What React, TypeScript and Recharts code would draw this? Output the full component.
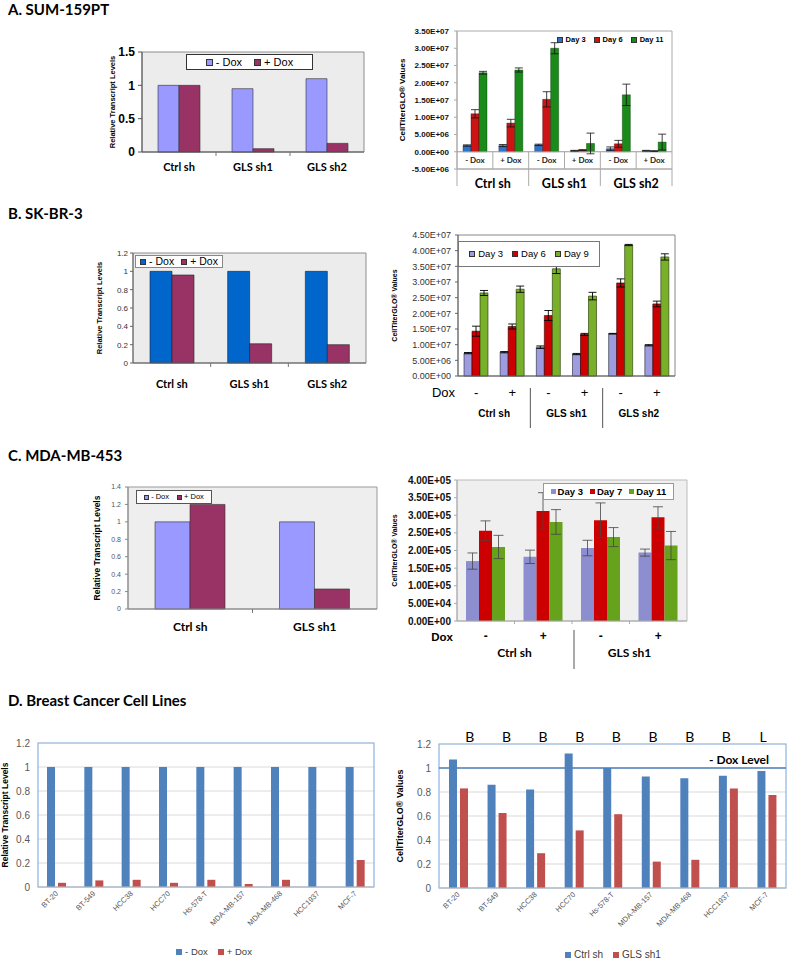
import React from "react";
import {
  BarChart,
  Bar,
  XAxis,
  YAxis,
  CartesianGrid,
  Legend,
  ErrorBar,
  ReferenceLine,
  ReferenceArea,
} from "recharts";

const ARIAL = "'Liberation Sans', Arial, sans-serif";
const CALIBRI = "Lato, 'Open Sans', sans-serif";

// ---------- A. SUM-159PT ----------
const shGroups3 = ["Ctrl sh", "GLS sh1", "GLS sh2"];
const aMinusDox = [1, 0.95, 1.1];
const aPlusDox = [1, 0.05, 0.13];

const aDoxLabels = ["- Dox", "+ Dox", "- Dox", "+ Dox", "- Dox", "+ Dox"];
const aDay3 = [1.8e6, 1.8e6, 2.0e6, 0.3e6, 0.9e6, 0.3e6];
const aDay3Err = [0.2e6, 0.3e6, 0.2e6, 0.1e6, 0.5e6, 0.1e6];
const aDay6 = [1.1e7, 8.3e6, 1.52e7, 0.5e6, 2.3e6, 0.2e6];
const aDay6Err = [1.2e6, 1.1e6, 2.2e6, 0.1e6, 1.0e6, 0.1e6];
const aDay11 = [2.29e7, 2.37e7, 3.0e7, 2.4e6, 1.65e7, 2.8e6];
const aDay11Err = [0.4e6, 0.6e6, 1.6e6, 3.0e6, 3.1e6, 2.3e6];
const aCellTicks = [-5e6, 0, 5e6, 1e7, 1.5e7, 2e7, 2.5e7, 3e7, 3.5e7];

// ---------- B. SK-BR-3 ----------
const bMinusDox = [1, 1, 1];
const bPlusDox = [0.96, 0.21, 0.2];

const bDoxSigns = ["-", "+", "-", "+", "-", "+"];
const bDay3 = [7.3e6, 7.6e6, 9.2e6, 7.0e6, 1.35e7, 9.8e6];
const bDay3Err = [0.2e6, 0.2e6, 0.4e6, 0.2e6, 0.1e6, 0.2e6];
const bDay6 = [1.43e7, 1.58e7, 1.93e7, 1.33e7, 2.97e7, 2.3e7];
const bDay6Err = [1.6e6, 0.8e6, 1.6e6, 0.3e6, 1.3e6, 0.9e6];
const bDay9 = [2.65e7, 2.77e7, 3.42e7, 2.55e7, 4.18e7, 3.8e7];
const bDay9Err = [0.8e6, 1.0e6, 1.5e6, 1.2e6, 0.2e6, 1.0e6];
const bCellTicks = [0, 5e6, 1e7, 1.5e7, 2e7, 2.5e7, 3e7, 3.5e7, 4e7, 4.5e7];

// ---------- C. MDA-MB-453 ----------
const shGroups2 = ["Ctrl sh", "GLS sh1"];
const cMinusDox = [1, 1];
const cPlusDox = [1.2, 0.23];

const cDoxSigns = ["-", "+", "-", "+"];
const cDay3 = [1.7e5, 1.82e5, 2.07e5, 1.94e5];
const cDay3Err = [2.3e4, 1.9e4, 2.2e4, 1.0e4];
const cDay7 = [2.56e5, 3.12e5, 2.86e5, 2.94e5];
const cDay7Err = [2.8e4, 5.2e4, 4.9e4, 3.0e4];
const cDay11 = [2.1e5, 2.81e5, 2.38e5, 2.14e5];
const cDay11Err = [3.3e4, 3.5e4, 2.7e4, 4.0e4];
const cCellTicks = [0, 5e4, 1e5, 1.5e5, 2e5, 2.5e5, 3e5, 3.5e5, 4e5];

// ---------- D. Breast Cancer Cell Lines ----------
const cellLines = ["BT-20", "BT-549", "HCC38", "HCC70", "Hs-578-T", "MDA-MB-157", "MDA-MB-468", "HCC1937", "MCF-7"];
const dMinusDox = [1, 1, 1, 1, 1, 1, 1, 1, 1];
const dPlusDox = [0.035, 0.055, 0.06, 0.035, 0.06, 0.025, 0.06, 0, 0.225];
const dCtrlSh = [1.07, 0.86, 0.82, 1.12, 1.0, 0.93, 0.915, 0.935, 0.975];
const dGlsSh1 = [0.83, 0.625, 0.29, 0.48, 0.615, 0.22, 0.235, 0.83, 0.775];
const dSubtype = ["B", "B", "B", "B", "B", "B", "B", "B", "L"];
const dDoxLevel = 1;

const ticks12 = [0, 0.2, 0.4, 0.6, 0.8, 1, 1.2];
const ticks14 = [0, 0.2, 0.4, 0.6, 0.8, 1, 1.2, 1.4];

const aRows = shGroups3.map((name, i) => ({ name, minus: aMinusDox[i], plus: aPlusDox[i] }));
const aCellRows = aDoxLabels.map((dox, i) => ({
  dox, group: shGroups3[Math.floor(i / 2)],
  d3: aDay3[i], e3: aDay3Err[i], d6: aDay6[i], e6: aDay6Err[i], d11: aDay11[i], e11: aDay11Err[i],
}));
const bRows = shGroups3.map((name, i) => ({ name, minus: bMinusDox[i], plus: bPlusDox[i] }));
const bCellRows = bDoxSigns.map((dox, i) => ({
  dox, group: shGroups3[Math.floor(i / 2)],
  d3: bDay3[i], e3: bDay3Err[i], d6: bDay6[i], e6: bDay6Err[i], d9: bDay9[i], e9: bDay9Err[i],
}));
const cRows = shGroups2.map((name, i) => ({ name, minus: cMinusDox[i], plus: cPlusDox[i] }));
const cCellRows = cDoxSigns.map((dox, i) => ({
  dox, group: shGroups2[Math.floor(i / 2)],
  d3: cDay3[i], e3: cDay3Err[i], d7: cDay7[i], e7: cDay7Err[i], d11: cDay11[i], e11: cDay11Err[i],
}));
const dRows = cellLines.map((name, i) => ({ name, minus: dMinusDox[i], plus: dPlusDox[i] }));
const dCellRows = cellLines.map((name, i) => ({ name, type: dSubtype[i], ctrl: dCtrlSh[i], gls: dGlsSh1[i] }));

// "3.50E+07" style labels
const sci = (v: number) => {
  const [m, e] = v.toExponential(2).split("e");
  const n = Number(e);
  return `${m}E${n < 0 ? "-" : "+"}${String(Math.abs(n)).padStart(2, "0")}`;
};

type Geo = { left: number; top: number; width: number; height: number; x0: number; y0: number; x1: number; y1: number };

const gAL: Geo = { left: 95, top: 40, width: 285, height: 140, x0: 142, y0: 52, x1: 364, y1: 152 };
const gAR: Geo = { left: 385, top: 20, width: 305, height: 172, x0: 457, y0: 31, x1: 672, y1: 169 };
const gBL: Geo = { left: 90, top: 240, width: 290, height: 155, x0: 133, y0: 253, x1: 366, y1: 363 };
const gBR: Geo = { left: 385, top: 225, width: 305, height: 207, x0: 458, y0: 235, x1: 675, y1: 376 };
const gCL: Geo = { left: 85, top: 478, width: 297, height: 162, x0: 128, y0: 487, x1: 377, y1: 609 };
const gCR: Geo = { left: 385, top: 470, width: 315, height: 202, x0: 457, y0: 480, x1: 687, y1: 621 };
const gDL: Geo = { left: 0, top: 730, width: 385, height: 232, x0: 38, y0: 743, x1: 374, y1: 887 };
const gDR: Geo = { left: 390, top: 720, width: 398, height: 242, x0: 439, y0: 744, x1: 786, y1: 888 };

const mg = (g: Geo, topAxis = 0) => ({ top: g.y0 - g.top - topAxis, right: g.left + g.width - g.x1, left: 0, bottom: 0 });
const yw = (g: Geo) => g.x0 - g.left;
const xh = (g: Geo) => g.top + g.height - g.y1;

function Frame({ g, children }: { g: Geo; children: React.ReactNode }) {
  return (
    <div style={{ position: "absolute", left: g.left, top: g.top, width: g.width, height: g.height }}>
      {children}
    </div>
  );
}

function LegendBox(props: any) {
  const { payload, keys, w, h, border, font, size, weight, marker, gap, color, markerBorder, inner } = props;
  // keep series order (the legend sorts by name otherwise)
  const items = [...(payload || [])].sort((a: any, b: any) => keys.indexOf(a.dataKey) - keys.indexOf(b.dataKey));
  return (
    <div
      style={{
        boxSizing: "border-box", width: w, height: h,
        border: border || "none", background: border ? "#fff" : "transparent",
        display: "flex", alignItems: "center", justifyContent: "center", gap,
        fontFamily: font, fontSize: size, fontWeight: weight || 400, color: color || "#000",
        whiteSpace: "nowrap", lineHeight: 1,
      }}
    >
      {items.map((e: any) => (
        <span key={e.value} style={{ display: "flex", alignItems: "center", gap: inner ?? 3 }}>
          <span style={{ display: "inline-block", width: marker, height: marker, background: e.color, border: markerBorder || "none", boxSizing: "border-box" }} />
          <span>{e.value}</span>
        </span>
      ))}
    </div>
  );
}

function legendAt(g: Geo, keys: string[], x: number, y: number, w: number, h: number, opts: any) {
  return (
    <Legend
      layout="vertical"
      verticalAlign="middle"
      align="center"
      wrapperStyle={{ left: x - g.left, top: y - g.top, width: w, height: h }}
      content={(p: any) => <LegendBox payload={p.payload} keys={keys} w={w} h={h} {...opts} />}
    />
  );
}

const yTitle = (value: string, g: Geo, cx: number, size: number) => ({
  value, angle: -90, position: "insideLeft" as const, offset: cx - g.left,
  fontSize: size, fontWeight: 700, fontFamily: ARIAL, fill: "#000",
  style: { textAnchor: "middle" as const },
});

// category axis label with Excel boundary tick marks
const catTick = (band: number, n: number, dy: number, size: number) => (p: any) => {
  const { x, y, payload, index } = p;
  return (
    <g>
      <text x={x} y={y + dy} textAnchor="middle" dominantBaseline="central" fontFamily={CALIBRI} fontWeight={700} fontSize={size} fill="#000">
        {payload.value}
      </text>
      {index < n - 1 && <line x1={x + band / 2} x2={x + band / 2} y1={y} y2={y + 4} stroke="#777" />}
    </g>
  );
};

const rotTick = (p: any) => {
  const { x, y, payload } = p;
  const tx = x + 2;
  const ty = y + 7;
  return (
    <text x={tx} y={ty} transform={`rotate(-45 ${tx} ${ty})`} textAnchor="end" fontFamily={ARIAL} fontSize={7.5} fill="#595959">
      {payload.value}
    </text>
  );
};

function ChartAL() {
  const g = gAL;
  const band = (g.x1 - g.x0) / aRows.length;
  return (
    <Frame g={g}>
      <BarChart width={g.width} height={g.height} data={aRows} margin={mg(g)} barGap={0} barSize={21}>
        <CartesianGrid fill="#ececec" horizontal={false} vertical={false} />
        <ReferenceArea y1={0} y2={1.5} fill="none" stroke="#8c8c8c" ifOverflow="visible" />
        <XAxis dataKey="name" height={xh(g)} interval={0} tickLine={false} tickSize={0} tickMargin={0}
          axisLine={{ stroke: "#555" }} tick={catTick(band, aRows.length, 14, 11)} />
        <YAxis width={yw(g)} domain={[0, 1.5]} ticks={[0, 0.5, 1, 1.5]} interval={0}
          axisLine={{ stroke: "#555" }} tickLine={{ stroke: "#555" }} tickSize={4} tickMargin={3}
          tick={{ fontSize: 12, fontWeight: 700, fill: "#000", fontFamily: ARIAL }}
          label={yTitle("Relative Transcript Levels", g, 112, 7.5)} />
        <Bar dataKey="minus" name="- Dox" fill="#9999ff" stroke="#333" strokeWidth={0.6} isAnimationActive={false} />
        <Bar dataKey="plus" name="+ Dox" fill="#993366" stroke="#333" strokeWidth={0.6} isAnimationActive={false} />
        {legendAt(g, ["minus", "plus"], 186, 54, 127, 16, { border: "1px solid #333", font: ARIAL, size: 11, marker: 7, gap: 12, markerBorder: "1px solid #333" })}
      </BarChart>
    </Frame>
  );
}

function ChartAR() {
  const g = gAR;
  const n = aCellRows.length;
  const band = (g.x1 - g.x0) / n;
  const zeroDrop = ((0 - aCellTicks[0]) / (aCellTicks[aCellTicks.length - 1] - aCellTicks[0])) * (g.y1 - g.y0);
  const tick = (p: any) => {
    const { x, y, payload, index } = p;
    const zy = y - zeroDrop;
    return (
      <g>
        <text x={x} y={(zy + y) / 2} textAnchor="middle" dominantBaseline="central" fontFamily={CALIBRI} fontWeight={700} fontSize={8} fill="#222">
          {payload.value}
        </text>
        {index < n - 1 && <line x1={x + band / 2} x2={x + band / 2} y1={zy} y2={y} stroke="#aaa" />}
        {index % 2 === 0 && <line x1={x - band / 2} x2={x - band / 2} y1={y} y2={y + 17} stroke="#aaa" />}
        {index === n - 1 && <line x1={x + band / 2} x2={x + band / 2} y1={y} y2={y + 17} stroke="#aaa" />}
        {index % 2 === 1 && (
          <text x={x - band / 2} y={y + 14} textAnchor="middle" dominantBaseline="central" fontFamily={CALIBRI} fontWeight={700} fontSize={12.5} fill="#000">
            {aCellRows[index].group}
          </text>
        )}
      </g>
    );
  };
  return (
    <Frame g={g}>
      <BarChart width={g.width} height={g.height} data={aCellRows} margin={mg(g)} barGap={0} barSize={8}>
        <ReferenceArea y1={-5e6} y2={3.5e7} fill="none" stroke="#aaa" ifOverflow="visible" />
        <ReferenceLine y={0} stroke="#999" />
        <XAxis dataKey="dox" height={xh(g)} interval={0} tickLine={false} tickSize={0} tickMargin={0}
          axisLine={{ stroke: "#aaa" }} tick={tick} />
        <YAxis width={yw(g)} domain={[-5e6, 3.5e7]} ticks={aCellTicks} interval={0} tickFormatter={sci}
          axisLine={{ stroke: "#aaa" }} tickLine={{ stroke: "#aaa" }} tickSize={3} tickMargin={5}
          tick={{ fontSize: 8, fontWeight: 700, fill: "#111", fontFamily: ARIAL }}
          label={yTitle("CellTiterGLO® Values", g, 402, 8)} />
        <Bar dataKey="d3" name="Day 3" fill="#2f72c8" stroke="#234" strokeWidth={0.4} isAnimationActive={false}>
          <ErrorBar dataKey="e3" width={4} stroke="#111" strokeWidth={0.8} direction="y" />
        </Bar>
        <Bar dataKey="d6" name="Day 6" fill="#cc1414" stroke="#400" strokeWidth={0.4} isAnimationActive={false}>
          <ErrorBar dataKey="e6" width={4} stroke="#111" strokeWidth={0.8} direction="y" />
        </Bar>
        <Bar dataKey="d11" name="Day 11" fill="#1a8a1a" stroke="#030" strokeWidth={0.4} isAnimationActive={false}>
          <ErrorBar dataKey="e11" width={4} stroke="#111" strokeWidth={0.8} direction="y" />
        </Bar>
        {legendAt(g, ["d3", "d6", "d11"], 556, 34, 108, 12, { font: ARIAL, size: 7.5, weight: 700, marker: 6, gap: 8, markerBorder: "0.5px solid #333" })}
      </BarChart>
    </Frame>
  );
}

function ChartBL() {
  const g = gBL;
  const band = (g.x1 - g.x0) / bRows.length;
  return (
    <Frame g={g}>
      <BarChart width={g.width} height={g.height} data={bRows} margin={mg(g)} barGap={0} barSize={22}>
        <CartesianGrid fill="#ececec" horizontal={false} vertical={false} />
        <ReferenceArea y1={0} y2={1.2} fill="none" stroke="#8c8c8c" ifOverflow="visible" />
        <XAxis dataKey="name" height={xh(g)} interval={0} tickLine={false} tickSize={0} tickMargin={0}
          axisLine={{ stroke: "#666" }} tick={catTick(band, bRows.length, 20, 11)} />
        <YAxis width={yw(g)} domain={[0, 1.2]} ticks={ticks12} interval={0}
          axisLine={{ stroke: "#666" }} tickLine={{ stroke: "#666" }} tickSize={3} tickMargin={2}
          tick={{ fontSize: 8, fill: "#333", fontFamily: ARIAL }}
          label={yTitle("Relative Transcript Levels", g, 99, 7.5)} />
        <Bar dataKey="minus" name="- Dox" fill="#0066cc" stroke="#222" strokeWidth={0.6} isAnimationActive={false} />
        <Bar dataKey="plus" name="+ Dox" fill="#993366" stroke="#222" strokeWidth={0.6} isAnimationActive={false} />
        {legendAt(g, ["minus", "plus"], 135, 255, 88, 13, { border: "1px solid #888", font: ARIAL, size: 10.5, marker: 6, gap: 7, markerBorder: "1px solid #333" })}
      </BarChart>
    </Frame>
  );
}

function ChartBR() {
  const g = gBR;
  const n = bCellRows.length;
  const band = (g.x1 - g.x0) / n;
  const tick = (p: any) => {
    const { x, y, payload, index } = p;
    return (
      <g>
        {index === 0 && (
          <text x={x - band / 2 - 3} y={y + 16} textAnchor="end" dominantBaseline="central" fontFamily={ARIAL} fontSize={13} fill="#000">Dox</text>
        )}
        <text x={x} y={y + 16} textAnchor="middle" dominantBaseline="central" fontFamily={ARIAL} fontSize={13} fill="#000">
          {payload.value}
        </text>
        {index % 2 === 0 && index > 0 && <line x1={x - band / 2} x2={x - band / 2} y1={y + 12} y2={y + 52} stroke="#555" />}
        {index % 2 === 1 && (
          <text x={x - band / 2} y={y + 37} textAnchor="middle" dominantBaseline="central" fontFamily={ARIAL} fontWeight={700} fontSize={10} fill="#000">
            {bCellRows[index].group}
          </text>
        )}
      </g>
    );
  };
  return (
    <Frame g={g}>
      <BarChart width={g.width} height={g.height} data={bCellRows} margin={mg(g)} barGap={0} barSize={8}>
        <ReferenceArea y1={0} y2={4.5e7} fill="none" stroke="#888" ifOverflow="visible" />
        <XAxis dataKey="dox" height={xh(g)} interval={0} tickLine={false} tickSize={0} tickMargin={0}
          axisLine={{ stroke: "#666" }} tick={tick} />
        <YAxis width={yw(g)} domain={[0, 4.5e7]} ticks={bCellTicks} interval={0} tickFormatter={sci}
          axisLine={{ stroke: "#666" }} tickLine={{ stroke: "#666" }} tickSize={3} tickMargin={4}
          tick={{ fontSize: 9, fill: "#333", fontFamily: ARIAL }}
          label={yTitle("CellTiterGLO® Values", g, 395, 7)} />
        <Bar dataKey="d3" name="Day 3" fill="#9c9cdf" stroke="#223" strokeWidth={0.6} isAnimationActive={false}>
          <ErrorBar dataKey="e3" width={4} stroke="#000" strokeWidth={0.9} direction="y" />
        </Bar>
        <Bar dataKey="d6" name="Day 6" fill="#cc0000" stroke="#300" strokeWidth={0.6} isAnimationActive={false}>
          <ErrorBar dataKey="e6" width={4} stroke="#000" strokeWidth={0.9} direction="y" />
        </Bar>
        <Bar dataKey="d9" name="Day 9" fill="#78b02a" stroke="#230" strokeWidth={0.6} isAnimationActive={false}>
          <ErrorBar dataKey="e9" width={4} stroke="#000" strokeWidth={0.9} direction="y" />
        </Bar>
        {legendAt(g, ["d3", "d6", "d9"], 458, 241, 142, 26, { border: "1px solid #777", font: ARIAL, size: 9.5, marker: 6, gap: 9, markerBorder: "1px solid #333" })}
      </BarChart>
    </Frame>
  );
}

function ChartCL() {
  const g = gCL;
  const band = (g.x1 - g.x0) / cRows.length;
  return (
    <Frame g={g}>
      <BarChart width={g.width} height={g.height} data={cRows} margin={mg(g)} barGap={0} barSize={35}>
        <CartesianGrid fill="#eeeeee" horizontal={false} vertical={false} />
        <ReferenceArea y1={0} y2={1.4} fill="none" stroke="#999" ifOverflow="visible" />
        <XAxis dataKey="name" height={xh(g)} interval={0} tickLine={false} tickSize={0} tickMargin={0}
          axisLine={{ stroke: "#888" }} tick={catTick(band, cRows.length, 17, 12)} />
        <YAxis width={yw(g)} domain={[0, 1.4]} ticks={ticks14} interval={0}
          axisLine={{ stroke: "#888" }} tickLine={{ stroke: "#888" }} tickSize={3} tickMargin={4}
          tick={{ fontSize: 7, fill: "#555", fontFamily: ARIAL }}
          label={yTitle("Relative Transcript Levels", g, 97, 8.5)} />
        <Bar dataKey="minus" name="- Dox" fill="#9999ff" stroke="#333" strokeWidth={0.6} isAnimationActive={false} />
        <Bar dataKey="plus" name="+ Dox" fill="#993366" stroke="#333" strokeWidth={0.6} isAnimationActive={false} />
        {legendAt(g, ["minus", "plus"], 136, 490, 76, 14, { border: "1px solid #555", font: ARIAL, size: 7.5, marker: 5, gap: 8, inner: 2, markerBorder: "0.5px solid #333" })}
      </BarChart>
    </Frame>
  );
}

function ChartCR() {
  const g = gCR;
  const n = cCellRows.length;
  const band = (g.x1 - g.x0) / n;
  const tick = (p: any) => {
    const { x, y, payload, index } = p;
    return (
      <g>
        {index > 0 && <line x1={x - band / 2} x2={x - band / 2} y1={y} y2={y + 3} stroke="#aaa" />}
        {index === 0 && (
          <text x={x - band / 2 - 4} y={y + 16} textAnchor="end" dominantBaseline="central" fontFamily={ARIAL} fontWeight={700} fontSize={11.5} fill="#000">Dox</text>
        )}
        <text x={x} y={y + 15} textAnchor="middle" dominantBaseline="central" fontFamily={ARIAL} fontWeight={700} fontSize={12} fill="#000">
          {payload.value}
        </text>
        {index % 2 === 0 && index > 0 && <line x1={x - band / 2 + 2} x2={x - band / 2 + 2} y1={y + 9} y2={y + 48} stroke="#555" />}
        {index % 2 === 1 && (
          <text x={x - band / 2} y={y + 31} textAnchor="middle" dominantBaseline="central" fontFamily={CALIBRI} fontWeight={700} fontSize={12} fill="#000">
            {cCellRows[index].group}
          </text>
        )}
      </g>
    );
  };
  return (
    <Frame g={g}>
      <BarChart width={g.width} height={g.height} data={cCellRows} margin={mg(g)} barGap={0} barSize={13}>
        <CartesianGrid fill="#efefef" horizontal={false} vertical={false} />
        <ReferenceArea y1={0} y2={4e5} fill="none" stroke="#bbb" ifOverflow="visible" />
        <XAxis dataKey="dox" height={xh(g)} interval={0} tickLine={false} tickSize={0} tickMargin={0}
          axisLine={{ stroke: "#aaa" }} tick={tick} />
        <YAxis width={yw(g)} domain={[0, 4e5]} ticks={cCellTicks} interval={0} tickFormatter={sci}
          axisLine={{ stroke: "#aaa" }} tickLine={{ stroke: "#aaa" }} tickSize={3} tickMargin={3}
          tick={{ fontSize: 10, fontWeight: 700, fill: "#111", fontFamily: ARIAL }}
          label={yTitle("CellTiterGLO® Values", g, 395, 7)} />
        <Bar dataKey="d3" name="Day 3" fill="#8c8ed0" isAnimationActive={false}>
          <ErrorBar dataKey="e3" width={5} stroke="#444" strokeWidth={0.8} direction="y" />
        </Bar>
        <Bar dataKey="d7" name="Day 7" fill="#cc0000" isAnimationActive={false}>
          <ErrorBar dataKey="e7" width={5} stroke="#444" strokeWidth={0.8} direction="y" />
        </Bar>
        <Bar dataKey="d11" name="Day 11" fill="#67a21d" isAnimationActive={false}>
          <ErrorBar dataKey="e11" width={5} stroke="#444" strokeWidth={0.8} direction="y" />
        </Bar>
        {legendAt(g, ["d3", "d7", "d11"], 543, 483, 131, 17, { border: "1px solid #999", font: ARIAL, size: 9.5, weight: 700, marker: 5, gap: 7, inner: 2 })}
      </BarChart>
    </Frame>
  );
}

function ChartDL() {
  const g = gDL;
  return (
    <Frame g={g}>
      <BarChart width={g.width} height={g.height} data={dRows} margin={mg(g)} barGap={3} barSize={8}>
        <CartesianGrid horizontal vertical={false} stroke="#d9d9d9" />
        <ReferenceArea y1={0} y2={1.2} fill="none" stroke="#8db3e2" strokeWidth={1.2} ifOverflow="visible" />
        <XAxis dataKey="name" height={xh(g)} interval={0} tickLine={false} tickSize={0} tickMargin={0}
          axisLine={{ stroke: "#bfbfbf" }} tick={rotTick} />
        <YAxis width={yw(g)} domain={[0, 1.2]} ticks={ticks12} interval={0} axisLine={false} tickLine={false}
          tick={{ fontSize: 10, fill: "#595959", fontFamily: ARIAL }}
          label={yTitle("Relative Transcript Levels", g, 5, 8.5)} />
        <Bar dataKey="minus" name="- Dox" fill="#4f81bd" isAnimationActive={false} />
        <Bar dataKey="plus" name="+ Dox" fill="#c0504d" isAnimationActive={false} />
        {legendAt(g, ["minus", "plus"], 168, 945, 92, 14, { font: ARIAL, size: 9.5, marker: 6, gap: 10, color: "#404040" })}
      </BarChart>
    </Frame>
  );
}

function ChartDR() {
  const g = gDR;
  const topH = 24;
  const typeTick = (p: any) => {
    const { x, y, index } = p;
    return (
      <text x={x + 11.5 - index * 1.9} y={y - 8} textAnchor="middle" dominantBaseline="central" fontFamily={CALIBRI} fontSize={14} fill="#000">
        {dCellRows[index].type}
      </text>
    );
  };
  return (
    <Frame g={g}>
      <BarChart width={g.width} height={g.height} data={dCellRows} margin={mg(g, topH)} barGap={3} barSize={8}>
        <CartesianGrid horizontal vertical={false} stroke="#d9d9d9" />
        <ReferenceArea y1={0} y2={1.2} fill="none" stroke="#8db3e2" strokeWidth={1.2} ifOverflow="visible" />
        <XAxis dataKey="name" height={xh(g)} interval={0} tickLine={false} tickSize={0} tickMargin={0}
          axisLine={{ stroke: "#bfbfbf" }} tick={rotTick} />
        <XAxis xAxisId="type" orientation="top" dataKey="name" height={topH} interval={0} axisLine={false}
          tickLine={false} tickSize={0} tickMargin={0} tick={typeTick} />
        <YAxis width={yw(g)} domain={[0, 1.2]} ticks={ticks12} interval={0} axisLine={false} tickLine={false}
          tick={{ fontSize: 10, fill: "#595959", fontFamily: ARIAL }}
          label={yTitle("CellTiterGLO® Values", g, 400, 9)} />
        <ReferenceLine y={dDoxLevel} stroke="#4f81bd" strokeWidth={1.5}
          label={(p: any) => (
            <text x={p.viewBox.x + p.viewBox.width - 17} y={p.viewBox.y - 4} textAnchor="end" fontFamily={CALIBRI} fontWeight={700} fontSize={12} fill="#000">
              - Dox Level
            </text>
          )} />
        <Bar dataKey="ctrl" name="Ctrl sh" fill="#4f81bd" isAnimationActive={false} />
        <Bar dataKey="gls" name="GLS sh1" fill="#c0504d" isAnimationActive={false} />
        {legendAt(g, ["ctrl", "gls"], 563, 948, 100, 14, { font: ARIAL, size: 10, marker: 6, gap: 10, color: "#404040" })}
      </BarChart>
    </Frame>
  );
}

const titleStyle = (top: number): React.CSSProperties => ({
  position: "absolute", left: 8, top, fontFamily: CALIBRI, fontWeight: 700, fontSize: 15, lineHeight: "16px", color: "#000", whiteSpace: "nowrap",
});

export default function App() {
  return (
    <div style={{ position: "absolute", left: 0, top: 0, width: 788, height: 962, background: "#fff", overflow: "hidden" }}>
      <div style={titleStyle(1)}>A. SUM-159PT</div>
      <div style={titleStyle(205)}>B. SK-BR-3</div>
      <div style={titleStyle(447)}>C. MDA-MB-453</div>
      <div style={titleStyle(692)}>D. Breast Cancer Cell Lines</div>
      <ChartAL />
      <ChartAR />
      <ChartBL />
      <ChartBR />
      <ChartCL />
      <ChartCR />
      <ChartDL />
      <ChartDR />
    </div>
  );
}
